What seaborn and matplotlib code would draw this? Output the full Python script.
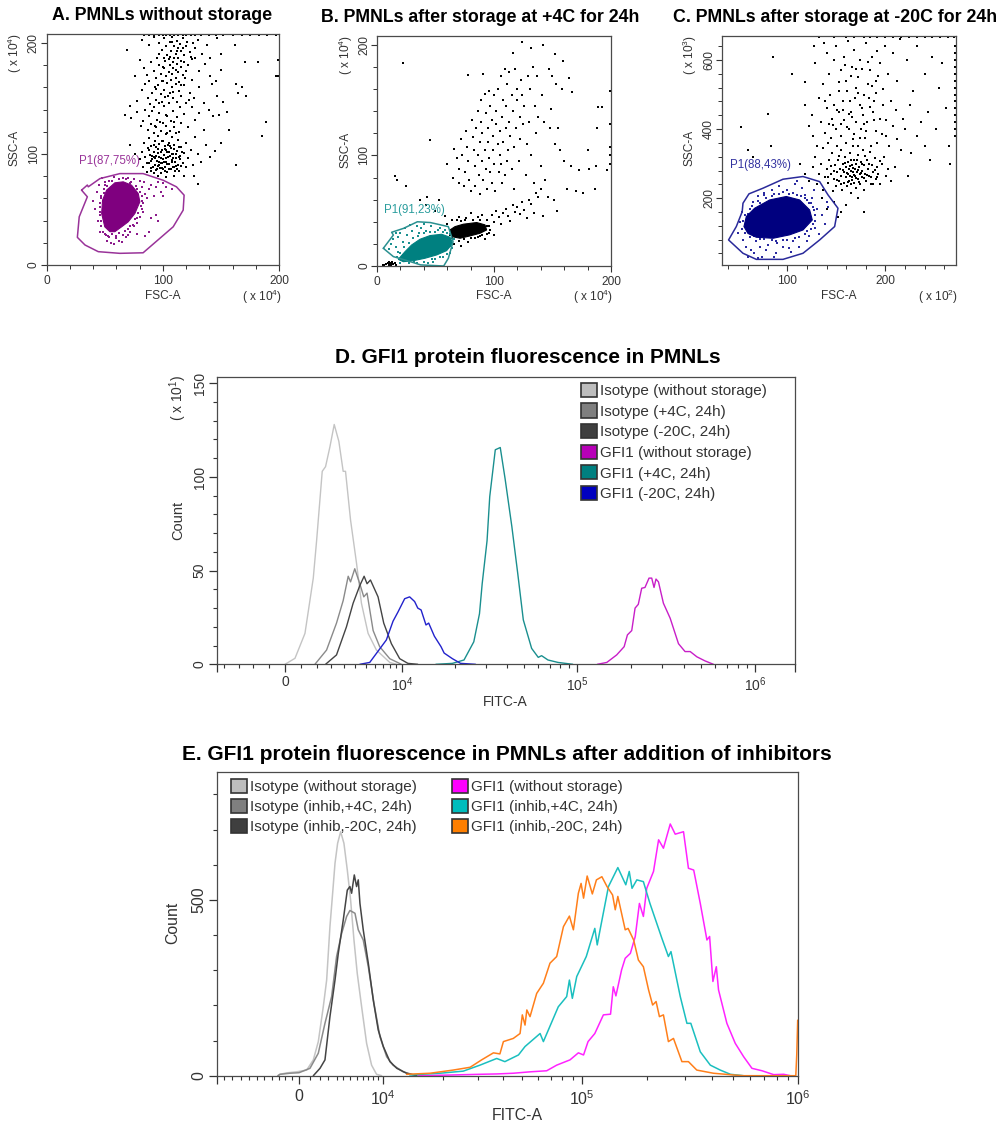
import numpy as np
import matplotlib
matplotlib.use('Agg')
import matplotlib.pyplot as plt
from matplotlib.patches import Patch
import seaborn as sns

W, H = 1003, 1123

# ---- panel A events (FSC-A, SSC-A, x 10^4)
a_black = [(84,207),(88,207),(92,207),(97,207),(100,207),(103,207),(106,207),(110,207),(113,207),(117,207),(120,207),(124,207),(128,207),(133,207),(140,207),(146,207),(152,207),(160,207),(168,207),(175,207),(183,207),(190,207),(197,207),(199,185),(199,170),
(82,203),(88,198),(92,205),(97,200),(99,194),(101,204),(103,197),(104,189),(106,201),(107,193),(108,205),(110,197),(111,190),(112,202),(113,186),(115,199),(116,193),(117,204),(118,189),(120,197),(121,201),(123,192),(124,187),(126,200),(128,195),(130,203),(134,190),(138,198),(141,186),(147,204),(150,190),(162,198),(69,194),(97,190),(101,186),(106,187),(109,183),(113,195),(116,184),
(80,185),(84,177),(86,171),(90,183),(92,175),(94,168),(95,186),(97,180),(98,172),(100,166),(101,177),(102,184),(103,170),(105,174),(106,180),(107,167),(108,172),(109,177),(110,186),(111,168),(112,181),(113,174),(114,165),(116,178),(117,171),(118,183),(120,175),(122,180),(125,167),(128,186),(131,175),(136,181),(141,170),(146,166),(150,176),(163,163),(171,183),(182,183),(197,170),(76,170),
(78,148),(82,158),(85,163),(87,150),(89,145),(91,155),(93,160),(94,149),(96,162),(98,154),(99,147),(101,158),(102,151),(104,164),(105,146),(106,155),(108,160),(109,150),(111,163),(112,147),(114,157),(116,152),(118,162),(120,146),(123,155),(127,150),(131,160),(135,146),(142,163),(147,152),(152,147),(165,155),(172,152),(168,160),
(67,135),(72,143),(73,132),(78,138),(81,125),(83,130),(85,140),(87,122),(88,134),(90,127),(92,142),(94,124),(95,131),(97,137),(98,121),(100,128),(101,143),(103,125),(104,134),(106,121),(107,130),(109,139),(110,124),(112,133),(114,120),(116,128),(118,136),(122,124),(125,142),(128,131),(131,137),(135,122),(140,140),(143,134),(148,135),(155,138),(157,122),(189,129),(185,116),
(80,95),(82,102),(83,88),(84,110),(85,97),(86,84),(87,105),(88,92),(88,114),(89,99),(90,87),(90,107),(91,95),(92,102),(92,83),(93,90),(93,112),(94,98),(94,106),(95,86),(95,94),(96,101),(96,116),(97,90),(97,109),(98,96),(98,83),(99,104),(99,92),(100,86),(100,112),(101,99),(101,93),(102,107),(102,88),(103,96),(103,118),(104,84),(104,102),(105,91),(105,110),(106,98),(107,86),(107,105),(108,93),(108,115),(109,100),(110,88),(110,108),(111,96),(112,103),(113,90),(113,113),(114,85),(115,98),(116,106),(117,92),(118,101),(120,88),(120,110),(122,96),(124,104),(126,90),(128,115),(130,100),(133,93),(137,108),(141,97),(145,103),(150,110),(163,90),(130,73),(127,80),(118,80),(110,80),(103,79),(96,80),(76,100),(72,108)]
a_black_dense = [(86.5,91.5),(88.5,103.5),(89.5,84.5),(90.5,98.5),(91.5,88.5),(92.5,108.5),(93.5,96.5),(94.5,85.5),(95.5,104.5),(96.5,92.5),(97.5,87.5),(98.5,101.5),(99.5,111.5),(100.5,95.5),(101.5,84.5),(102.5,103.5),(103.5,90.5),(104.5,97.5),(105.5,86.5),(106.5,107.5),(107.5,94.5),(108.5,88.5),(109.5,104.5),(110.5,92.5),(111.5,99.5),(112.5,86.5),(113.5,106.5),(114.5,95.5),(115.5,89.5),(116.5,101.5),(89.5,93.5),(92.5,97.5),(95.5,89.5),(98.5,91.5),(101.5,104.5),(104.5,108.5),(107.5,99.5),(110.5,84.5),(113.5,97.5),(96.5,97.5),(99.5,87.5),(102.5,92.5),(105.5,101.5),(108.5,96.5),(111.5,89.5),
(93.5,125.5),(96.5,145.5),(99.5,165.5),(102.5,135.5),(105.5,185.5),(108.5,155.5),(111.5,175.5),(114.5,142.5),(117.5,195.5),(90.5,138.5),(100.5,178.5),(104.5,152.5),(109.5,128.5),(112.5,192.5),(119.5,168.5),(94.5,158.5),(97.5,128.5),(107.5,200.5),(115.5,162.5),(122.5,148.5),(125.5,185.5),(88.5,165.5),(103.5,118.5),(111.5,118.5),(92.5,118.5)]
a_p1 = [(40,58),(42,50),(43,66),(44,40),(45,72),(46,30),(48,78),(50,75),(52,22),(53,26),(55,20),(58,19),(60,24),(62,22),(65,21),(68,25),(70,27),(72,30),(75,35),(78,38),(80,43),(82,50),(83,56),(85,64),(86,60),(88,68),(90,72),(92,62),(94,70),(96,75),(98,66),(100,62),(103,70),(88,30),(85,26),(90,42),(94,45),(82,70),(80,76),(75,77),(70,78),(84,75),(100,74),(108,68),(96,40),(78,28),
(46,45),(47,60),(49,68),(50,72),(54,76),(58,79),(66,78),(72,74),(78,68),(82,62),(83,48),(78,42),(74,36),(70,32),(66,27),(60,26),(54,25),(50,28),(47,35),(46,52),
(45.5,48),(46,56),(47,40),(48.5,30),(51,27),(56,27.5),(62,29),(67,31),(72,35),(76,41),(79,47),(81,53),(82,58),(80,66),(77,71),(73,75),(68,77),(62,77.5),(56,76),(52,71),(49,65),(47,62)]
a_core = [(54.4,30),(50,34.4),(47.3,46.4),(48.1,58.4),(51.6,67.4),(58.7,74),(65.9,74.9),(73,71.9),(78.8,64.4),(80.2,56.9),(75.9,46.4),(70.2,38.9),(64.5,34.4),(58.7,30)]
a_gate = [(30,67.4),(35,72),(35.8,70.4),(45.8,77.8),(63,82.3),(83,82.3),(100.3,76.3),(111.7,70.4),(118.3,62.9),(117.5,49.4),(108.9,34.4),(97.4,24),(83,11),(63,10.5),(44.4,12),(33,18),(26.4,24.9),(28,43.4),(35,61.4),(30,67.4)]

# ---- panel B events
b_black = [(94,42),(96,36),(98,46),(100,40),(102,50),(104,44),(106,38),(108,48),(110,52),(112,45),(114,41),(116,55),(118,49),(120,53),(122,47),(124,58),(126,51),(128,43),(130,60),(132,56),(134,48),(136,66),(138,62),(140,70),(142,45),(86,44),(80,48),(75,42),(90,46),(70,44),(84,25),(78,22),(88,27),(92,24),(66,20),(72,18),(96,30),(100,28),(58,45),(50,50),(42,55),(37,60),(43,62),(53,60),
(60,38),(64,42),(68,42),(72,41),(76,43),(82,42),(88,42),(94,36),(97,33),(94,29),(90,28),(86,26),(80,25),(74,24),(70,23),(64,25),(62,28),
(65,80),(60,92),(66,106),(68,98),(70,88),(70,75),(72,115),(73,100),(74,72),(75,85),(76,122),(77,108),(78,95),(79,78),(80,68),(81,132),(82,117),(83,105),(84,90),(84,72),(85,125),(86,140),(86,100),(87,82),(88,112),(88,65),(89,150),(89,130),(90,95),(90,120),(91,78),(92,156),(92,105),(93,138),(93,88),(94,70),(95,125),(95,112),(96,158),(96,98),(97,145),(97,85),(98,132),(98,75),(99,118),(99,105),(100,155),(100,92),(101,68),(102,140),(102,128),(103,110),(103,160),(104,85),(105,122),(105,100),(106,172),(106,92),(107,135),(107,75),(108,112),(108,150),(109,178),(109,82),(110,125),(110,145),(111,165),(111,95),(112,105),(113,130),(113,175),(114,118),(115,88),(115,155),(116,140),(117,70),(117,108),(118,178),(119,125),(120,150),(120,160),(121,95),(122,135),(122,115),(123,168),(124,155),(125,128),(126,145),(127,82),(128,110),(129,172),(130,130),(131,160),(132,100),(133,180),(134,75),(135,145),(136,120),(137,172),(138,135),(140,90),(141,155),(142,200),(143,130),(144,78),(146,62),(147,178),(148,125),(149,142),(150,172),(151,60),(152,110),(152,192),(153,165),(154,50),(155,125),(156,105),(158,160),(159,185),(160,95),(162,70),(164,170),(166,90),(167,157),(170,68),(173,87),(176,66),(180,105),(181,88),(186,70),(187,90),(188,125),(189,144),(192,144),(197,87),(199,158),(199,128),(199,108),(199,100),(199,92),(124,203),(116,193),(132,197),(22,184),(45,114),(91,174),(78,173),(15,81),(17,78),(25,72),
(8,2),(9,3),(10,1),(10,4),(11,2),(12,3),(12,1),(13,4),(14,2),(15,3),(16,1),(6,1),(5,0.5)]
b_black_core = [(62.4,32.6),(66.7,35.6),(73.8,37.8),(85.2,39.3),(92.3,37.2),(93.7,32.6),(88,29.6),(79.5,27.2),(71,25.1),(63.8,26.6)]
b_p1 = [(10,15),(12,20),(14,24),(16,17),(18,26),(18,13),(20,30),(22,10),(22,22),(24,34),(26,28),(28,37),(28,8),(30,32),(32,4),(34,36),(36,30),(38,34),(40,38),(42,32),(44,3),(46,36),(48,4),(50,6),(52,33),(54,34),(56,8),(58,33),(60,30),(62,12),(62,18),(16,30),(26,12),(24,6),(32,18),
(17,8),(20,12),(23,17),(27,21),(31,25),(35,27),(40,30),(45,31),(50,31),(56,31),(62,29),(66,24),(64,16),(60,11),(54,8),(47,6),(40,4),(34,3),(27,2.5),(20,3)]
b_core = [(18.2,6),(24,13),(29.6,19),(36.8,24.2),(45.3,27.5),(55.2,28.7),(62.4,26),(64.7,20.5),(59.5,13.9),(51,10),(41,7),(31,4.8),(22.5,3.9)]
b_gate = [(5.4,16),(14,28),(12.5,30.5),(22.6,34),(34.5,40),(45.6,39.3),(61,35.6),(65,22),(61,7),(57,0),(37.3,1),(24,5.4),(14,8.5),(5.4,16)]

# ---- panel C events (FSC-A x 10^2, SSC-A x 10^3)
c_black = [(132,668),(148,668),(160,668),(168,668),(178,668),(184,668),(192,668),(200,668),(208,668),(216,668),(224,668),(232,668),(240,668),(248,668),(256,668),(264,668),(270,668),
(271,640),(271,620),(271,600),(271,580),(271,560),(271,540),(271,520),(271,500),(271,480),(271,460),(271,440),(271,420),(271,400),(271,380),
(127,640),(128,590),(137,650),(140,620),(143,560),(148,600),(150,640),(153,510),(155,570),(158,610),(160,540),(162,655),(164,480),(166,580),(168,630),(170,520),(172,550),(174,600),(176,460),(178,500),(180,650),(182,530),(184,570),(186,610),(188,480),(190,540),(192,625),(195,590),(198,515),(200,640),(203,560),(206,480),(208,620),(212,540),(215,660),(218,430),(222,600),(225,470),(228,510),(232,640),(236,420),(240,560),(244,450),(248,610),(252,400),(255,520),(258,590),(262,460),(265,350),(266,300),
(118,470),(122,410),(125,440),(126,380),(130,350),(132,490),(134,420),(136,530),(138,390),(140,460),(142,360),(144,500),(146,430),(148,470),(150,400),(151,350),(153,450),(155,380),(157,480),(158,425),(160,360),(161,510),(163,400),(165,450),(167,370),(169,490),(170,420),(172,350),(174,470),(175,400),(177,440),(179,375),(181,420),(183,490),(185,350),(187,450),(190,395),(192,360),(195,430),(198,470),(201,380),(204,350),(208,410),(212,370),(216,340),(220,400),(226,330),(232,380),(240,350),(246,310),
(113,300),(118,270),(122,250),(126,290),(128,320),(130,240),(132,270),(134,300),(136,225),(138,260),(140,285),(142,245),(143,310),(145,270),(146,330),(147,220),(148,255),(149,295),(150,235),(151,275),(152,310),(153,250),(154,285),(155,265),(155,340),(156,225),(157,300),(158,245),(158,275),(159,320),(160,260),(160,290),(161,235),(162,270),(162,305),(163,250),(163,285),(164,330),(164,265),(165,280),(165,240),(166,295),(166,260),(167,275),(167,350),(168,310),(168,245),(169,285),(169,265),(170,230),(170,300),(171,275),(172,255),(172,325),(173,290),(174,270),(174,240),(175,305),(176,280),(176,260),(177,340),(178,225),(178,295),(179,270),(180,250),(181,310),(182,285),(183,265),(184,335),(185,240),(186,295),(187,275),(189,315),(190,255),(191,290),(193,270),(195,240),(197,300),(199,320),(201,265),(203,285),(206,250),(210,290),(223,265),
(135,200),(140,170),(148,190),(155,160),(160,180),(165,215),(172,200),(178,160),(152,145),
(85,610),(105,560),(118,535),(80,445),(53,405),(60,340),(83,350),(65,320)]
c_black_dense = [(141.5,262),(144.5,292),(147.5,278),(150.5,252),(152.5,322),(154.5,242),(156.5,282),(158.5,302),(160.5,272),(161.5,248),(163.5,292),(164.5,312),(166.5,252),(167.5,288),(168.5,268),(170.5,258),(171.5,312),(172.5,282),(173.5,248),(175.5,272),(176.5,298),(178.5,258),(179.5,322),(181.5,268),(183.5,300),(185.5,262),(187.5,242),(189.5,282),(191.5,262),(194.5,308),(146.5,412),(152.5,535),(156.5,455),(160.5,405),(164.5,555),(168.5,385),(172.5,505),(176.5,575),(180.5,395),(184.5,465),(188.5,425),(192.5,555),(196.5,385),(150.5,455),(158.5,585),(166.5,435),(174.5,375),(182.5,595),(190.5,505),(142.5,415),(138.5,480),(136.5,345),(144.5,375),(154.5,415),(162.5,445),(170.5,575),(178.5,415),(186.5,525),(200.5,425),(210.5,455)]
c_p1 = [(50,100),(52,130),(55,80),(57,150),(58,60),(60,110),(62,170),(63,50),(65,190),(66,40),(68,75),(70,205),(72,60),(74,30),(76,215),(78,50),(80,65),(84,225),(88,40),(90,70),(92,235),(96,60),(100,225),(104,45),(106,75),(108,240),(112,60),(115,230),(118,210),(120,75),(122,90),(125,200),(128,115),(130,170),(132,95),(135,150),(138,125),(140,190),(142,175),(127,225),(122,185),(110,250),(102,55),(86,30),(70,28),(60,30),
(58,125),(62,145),(66,165),(72,185),(78,200),(86,212),(96,218),(106,215),(114,205),(120,195),(126,175),(128,150),(126,125),(120,105),(112,88),(100,78),(88,75),(76,82),(66,92),(60,108),
(54,112),(55,135),(60,155),(64,178),(70,192),(76,208),(84,206),(92,213),(102,212),(110,208),(118,200),(124,186),(127,165),(128,135),(124,112),(118,96),(108,86),(96,80),(84,78),(72,82),(62,88),(57,100)]
c_core = [(55.8,118),(58.2,147),(66.7,171),(82,195),(99,205),(112.6,195),(122.8,166),(125.5,137),(116,108),(102.4,94),(85.4,84),(68.4,87),(59.9,98)]
c_gate = [(54,161),(54.8,185.5),(60.9,212.6),(75.2,229),(95.6,255),(116,262.8),(133,248),(141.5,209.7),(151.7,171),(148.3,118),(133,79.2),(116,40.6),(95.6,23),(68.4,23),(54.8,40.6),(40.1,79.2),(48,118),(54,161)]

# ---- panel D histograms
d_iso_x = [0,852,1705,2415,2700,3180,3465,3835,4205,4600,4970,5170,5600,6110,6530,7100,7810,8950,9520]
d_iso_y = [0,3.2,16.5,46,66,103,105.5,116,128,119,103,103,77,54,32.6,16.5,7.6,1,0]
d_iso4_x = [2556,3550,4400,4970,5400,5600,5960,6390,6730,7010,7530,8090,8950,9940]
d_iso4_y = [0,7.6,22,34,47,44,51,43,36,38,18,9.4,3,0]
d_iso20_x = [3465,4400,5250,5820,6390,6760,7010,7300,7950,8435,9090,9800,10800,12300]
d_iso20_y = [0,5,20,32.6,42,47,43,45,36,22,11,3,0.5,0]
d_gfi_x = [1.30e5,1.47e5,1.67e5,1.84e5,1.92e5,2.03e5,2.12e5,2.21e5,2.31e5,2.41e5,2.54e5,2.63e5,2.71e5,2.78e5,2.87e5,3.06e5,3.34e5,3.72e5,4.05e5,4.33e5,4.72e5,5.25e5,5.85e5]
d_gfi_y = [0,1,5,9.4,15.7,18,30,32,40.6,41,46,46,41,45.5,44,32.6,24.6,11,6.8,6.8,4,1.8,0]
d_gfi4_x = [1.56e4,1.94e4,2.26e4,2.57e4,2.77e4,2.87e4,3.06e4,3.17e4,3.41e4,3.64e4,3.88e4,4.24e4,4.58e4,4.93e4,5.5e4,6.0e4,6.27e4,6.82e4,7.78e4,9.45e4]
d_gfi4_y = [0,0.5,2.3,12,27,43,66,89.5,114.5,115.7,99,73.5,48.6,23.7,8.5,3.7,4.6,2.3,1,0]
d_gfi20_x = [6390,7240,7950,8660,9230,9660,10350,11050,11800,12300,12850,13700,14200,15300,16700,17400,19400,21600,26300]
d_gfi20_y = [0,1,7,13,23,28,35,36,33.5,30,29,21,22,15,9.4,6,3,0.5,0]

# ---- panel E histograms
e_iso_x = [-2500,-2250,-1460,-276,908,1700,2290,2880,3280,3670,3990,4270,4580,4940,5330,5730,6120,6520,6910,7430,8020,8610,9200,9800]
e_iso_y = [0,4,8,11,16,45,97,196,272,424,519,604,661,694,661,585,500,386,291,196,92,30,4,0]
e_iso4_x = [-2500,-2250,-1070,0,1300,2290,3080,3870,4460,5060,5650,6040,6640,7030,7620,8220,8890,9600,10400,11200,12600,14100,16000]
e_iso4_y = [0,4,7,8.5,21,64,149,225,339,405,453,470,462,415,386,310,206,111,54,30,11,3,0]
e_iso20_x = [1700,2490,3080,3670,4270,4660,5250,5730,6040,6240,6560,6830,7030,7230,7620,8220,8810,9400,10000,10800,11700,13100,14700]
e_iso20_y = [0,21,45,168,272,348,443,528,538,519,571,538,557,490,415,320,215,130,83,40,21,7,0]
e_gfi_x = [1.5e4,2.2e4,3.07e4,3.73e4,4.52e4,5.49e4,6.66e4,7.48e4,8.73e4,9.62e4,1.02e5,1.07e5,1.15e5,1.26e5,1.36e5,1.40e5,1.44e5,1.53e5,1.59e5,1.68e5,1.77e5,1.85e5,1.93e5,2.0e5,2.15e5,2.27e5,2.39e5,2.57e5,2.71e5,2.96e5,3.12e5,3.3e5,3.54e5,3.8e5,3.91e5,4.05e5,4.2e5,4.3e5,4.7e5,5.14e5,5.62e5,6.14e5,6.84e5,7.74e5,8.61e5,9.25e5]
e_gfi_y = [0,2,4,5,7,11,14,30,45,65,59,97,120,173,175,253,227,301,334,348,396,490,453,533,581,671,647,716,687,694,590,585,490,386,396,268,310,244,149,92,54,21,14,3,4,0]
e_gfi4_x = [1.36e4,1.93e4,2.53e4,3.07e4,3.73e4,4.1e4,4.8e4,5.18e4,6.17e4,6.41e4,7.62e4,8.4e4,8.67e4,8.97e4,9.44e4,1.05e5,1.15e5,1.18e5,1.22e5,1.33e5,1.47e5,1.6e5,1.66e5,1.71e5,1.8e5,1.93e5,2.07e5,2.35e5,2.52e5,2.59e5,2.86e5,3.07e5,3.2e5,3.54e5,3.94e5,4.38e5,4.88e5,5.62e5]
e_gfi4_y = [2,7,13,30,49,40,59,83,120,97,196,225,272,220,282,339,419,372,419,538,592,543,581,533,557,552,490,391,339,353,225,149,149,68,30,16,4,0]
e_gfi20_x = [1.31e4,1.72e4,2.25e4,2.74e4,3.13e4,3.59e4,3.87e4,4.03e4,4.52e4,4.89e4,5.02e4,5.18e4,5.29e4,5.49e4,5.93e4,6.41e4,6.92e4,7.48e4,8.09e4,8.67e4,9.08e4,9.62e4,9.93e4,1.02e5,1.06e5,1.12e5,1.17e5,1.24e5,1.31e5,1.39e5,1.43e5,1.47e5,1.59e5,1.64e5,1.74e5,1.83e5,1.93e5,2.04e5,2.13e5,2.21e5,2.29e5,2.39e5,2.52e5,2.66e5,2.91e5,3.12e5,3.41e5,4.07e5,5.05e5,5.6e5,9.8e5,9.9e5,1e6]
e_gfi20_y = [4,7,16,24,45,65,62,97,106,120,173,144,187,168,234,263,320,339,424,454,415,519,547,505,568,517,557,566,538,514,472,510,415,419,386,329,310,244,201,211,168,173,97,106,40,40,16,7,2,0,0,60,158]

d_colors = ['#bdbdbd', '#7f7f7f', '#3f3f3f', '#b800b8', '#008080', '#0000bf']
d_labels = ['Isotype (without storage)', 'Isotype (+4C, 24h)', 'Isotype (-20C, 24h)',
            'GFI1 (without storage)', 'GFI1 (+4C, 24h)', 'GFI1 (-20C, 24h)']
e_colors = ['#bdbdbd', '#7f7f7f', '#3f3f3f', '#ff00ff', '#00bdbd', '#ff7f00']
e_labels = ['Isotype (without storage)', 'Isotype (inhib,+4C, 24h)', 'Isotype (inhib,-20C, 24h)',
            'GFI1 (without storage)', 'GFI1 (inhib,+4C, 24h)', 'GFI1 (inhib,-20C, 24h)']

D_DECADES = [-117, 0, 117, 292, 469.7, 646.7]
E_DECADES = [-84.3, 0, 84.3, 282.7, 498.7, 714.7]
U_POINTS = [-1, 0, 1, 2, 3, 4]

sns.set_style('ticks')
plt.rcParams['font.family'] = ['Liberation Sans', 'DejaVu Sans']
plt.rcParams['mathtext.default'] = 'regular'
plt.rcParams['axes.edgecolor'] = '#4a4a4a'
plt.rcParams['text.color'] = '#333333'
plt.rcParams['xtick.color'] = '#333333'
plt.rcParams['ytick.color'] = '#333333'
plt.rcParams['xtick.labelcolor'] = '#333333'
plt.rcParams['ytick.labelcolor'] = '#333333'


def biex_scale(decades):
    # linear up to 10^4, log above, like the cytometer software axis
    def forward(v):
        v = np.asarray(v, dtype=float)
        u = np.where(v <= 1e4, v / 1e4, 1 + np.log10(np.maximum(v, 1e4) / 1e4))
        return np.interp(u, U_POINTS, decades)

    def inverse(p):
        u = np.interp(np.asarray(p, dtype=float), decades, U_POINTS)
        return np.where(u <= 1, u * 1e4, 1e4 * 10 ** (np.maximum(u, 1) - 1))

    return forward, inverse


def add_axes_px(fig, left, top, right, bottom):
    return fig.add_axes([left / W, 1 - bottom / H, (right - left) / W, (bottom - top) / H])


def text_px(fig, x, y, s, **kwargs):
    kwargs.setdefault('ha', 'center')
    kwargs.setdefault('va', 'center')
    fig.text(x / W, 1 - y / H, s, **kwargs)


def draw_events(ax, events, color):
    pts = np.array(events)
    sns.scatterplot(x=pts[:, 0], y=pts[:, 1], ax=ax, color=color, marker='s', s=0.9,
                    linewidth=0, clip_on=True, legend=False)


def fill_core(ax, core, color):
    pts = np.array(core)
    ax.fill(pts[:, 0], pts[:, 1], color=color, lw=0.8)


def draw_gate(ax, gate, color):
    pts = np.array(gate)
    sns.lineplot(x=pts[:, 0], y=pts[:, 1], ax=ax, color=color, lw=1.1, sort=False,
                 estimator=None, legend=False)


def style_dot_axes(ax, xlim, ylim, xmajor, xminor, ymajor, yminor, fs=8.6):
    ax.set_xlim(xlim)
    ax.set_ylim(ylim)
    ax.set_xticks(xmajor)
    ax.set_xticks(xminor, minor=True)
    ax.set_yticks(ymajor)
    ax.set_yticks(yminor, minor=True)
    ax.set_xticklabels([str(t) for t in xmajor], fontsize=fs)
    ax.set_yticklabels([str(t) for t in ymajor], fontsize=fs, rotation=90, va='center')
    ax.tick_params(which='major', length=4.5, width=0.8, pad=2.5)
    ax.tick_params(axis='y', which='major', pad=0.5)
    ax.tick_params(which='minor', length=2.8, width=0.7)
    ax.set_xlabel('')
    ax.set_ylabel('')
    for s in ax.spines.values():
        s.set_visible(True)
        s.set_linewidth(0.9)


def style_hist_axes(ax, xlim, ylim, xmajor, xlabels, xminor, ymajor, yminor, fs, xpad=4):
    ax.set_xlim(xlim)
    ax.set_ylim(ylim)
    ax.set_xticks(xmajor)
    ax.set_xticklabels(xlabels, fontsize=fs)
    ax.set_xticks(xminor, minor=True)
    ax.set_yticks(ymajor)
    ax.set_yticklabels([str(t) for t in ymajor], fontsize=fs, rotation=90, va='center')
    ax.set_yticks(yminor, minor=True)
    ax.tick_params(which='major', length=5.5, width=0.9, pad=xpad)
    ax.tick_params(axis='y', which='major', pad=2)
    ax.tick_params(which='minor', length=3, width=0.8)
    ax.set_xlabel('')
    ax.set_ylabel('')
    for s in ax.spines.values():
        s.set_visible(True)
        s.set_linewidth(0.9)


def log_minor(first, last):
    return [m * 10 ** d for d in range(first, last) for m in range(2, 10)]


def main():
    fig = plt.figure(figsize=(W / 100, H / 100), dpi=100)

    # A
    ax_a = add_axes_px(fig, 46.7, 34, 279, 265)
    draw_events(ax_a, a_black, 'black')
    draw_events(ax_a, a_black_dense, 'black')
    draw_events(ax_a, a_p1, '#8b1a8b')
    fill_core(ax_a, a_core, '#7f007f')
    draw_gate(ax_a, a_gate, '#993399')
    style_dot_axes(ax_a, (0, 200), (0, 208), [0, 100, 200], range(20, 200, 20),
                   [0, 100, 200], range(20, 200, 20))
    text_px(fig, 162, 16, 'A. PMNLs without storage', fontsize=12.75, fontweight='bold', color='black')
    text_px(fig, 163, 296, 'FSC-A', fontsize=8.6)
    text_px(fig, 262, 297, r'( x 10$^{4}$)', fontsize=8.6)
    text_px(fig, 15, 148, 'SSC-A', fontsize=8.6, rotation=90)
    text_px(fig, 15, 53, r'( x 10$^{4}$)', fontsize=8.6, rotation=90)
    text_px(fig, 109, 161, 'P1(87,75%)', fontsize=8.3, color='#993399')

    # B
    ax_b = add_axes_px(fig, 377, 36, 611, 266)
    draw_events(ax_b, b_black, 'black')
    fill_core(ax_b, b_black_core, 'black')
    draw_events(ax_b, b_p1, '#1a8f8f')
    fill_core(ax_b, b_core, '#008080')
    draw_gate(ax_b, b_gate, '#2a9090')
    style_dot_axes(ax_b, (0, 200), (0, 208), [0, 100, 200], range(20, 200, 20),
                   [0, 100, 200], range(20, 200, 20))
    text_px(fig, 480, 17, 'B. PMNLs after storage at +4C for 24h', fontsize=12.75, fontweight='bold', color='black')
    text_px(fig, 494, 296, 'FSC-A', fontsize=8.6)
    text_px(fig, 593, 297, r'( x 10$^{4}$)', fontsize=8.6)
    text_px(fig, 346, 150, 'SSC-A', fontsize=8.6, rotation=90)
    text_px(fig, 346, 55, r'( x 10$^{4}$)', fontsize=8.6, rotation=90)
    text_px(fig, 414, 210, 'P1(91,23%)', fontsize=8.3, color='#2a9d9d')

    # C
    ax_c = add_axes_px(fig, 722, 36, 956.3, 265.3)
    draw_events(ax_c, c_black, 'black')
    draw_events(ax_c, c_black_dense, 'black')
    draw_events(ax_c, c_p1, '#2a2aa0')
    fill_core(ax_c, c_core, '#00007f')
    draw_gate(ax_c, c_gate, '#2a2a9a')
    style_dot_axes(ax_c, (33.4, 272.4), (5.8, 669.6), [100, 200], range(40, 272, 20),
                   [200, 400, 600], range(40, 660, 40))
    text_px(fig, 835, 17, 'C. PMNLs after storage at -20C for 24h', fontsize=12.75, fontweight='bold', color='black')
    text_px(fig, 839, 296, 'FSC-A', fontsize=8.6)
    text_px(fig, 938, 297, r'( x 10$^{2}$)', fontsize=8.6)
    text_px(fig, 690, 148, 'SSC-A', fontsize=8.6, rotation=90)
    text_px(fig, 690, 55, r'( x 10$^{3}$)', fontsize=8.6, rotation=90)
    text_px(fig, 760, 165, 'P1(88,43%)', fontsize=8.3, color='#3333a0')

    # D
    ax_d = add_axes_px(fig, 217, 376.7, 794.7, 664.3)
    ax_d.set_xscale('function', functions=biex_scale(D_DECADES))
    d_curves = [(d_iso_x, d_iso_y), (d_iso4_x, d_iso4_y), (d_iso20_x, d_iso20_y),
                (d_gfi_x, d_gfi_y), (d_gfi4_x, d_gfi4_y), (d_gfi20_x, d_gfi20_y)]
    d_line_colors = ['#c4c4c4', '#8a8a8a', '#444444', '#c81ec8', '#1a8f8f', '#2222cc']
    for (cx, cy), col in zip(d_curves, d_line_colors):
        sns.lineplot(x=cx, y=cy, ax=ax_d, color=col, lw=1.0, estimator=None, sort=False, legend=False)
    d_left, d_right = -5812, 1.68e6
    style_hist_axes(ax_d, (d_left, d_right), (0, 153.5),
                    [d_left, 0, 1e4, 1e5, 1e6, d_right],
                    ['', '0', r'10$^{4}$', r'10$^{5}$', r'10$^{6}$', ''],
                    [-5200, -3950, -2700, -1360, 1400, 2700, 3900, 5000, 6000, 6900, 7700, 8400, 9000, 9500]
                    + log_minor(4, 6),
                    [0, 50, 100, 150], [v for v in range(10, 150, 10) if v % 50], fs=10, xpad=2.5)
    ax_d.legend(handles=[Patch(facecolor=c, edgecolor='#333333', lw=1.2) for c in d_colors],
                labels=d_labels, loc='upper left', bbox_to_anchor=((580.7 - 217) / 577.7, 1 - (382.7 - 376.7) / 287.6),
                frameon=False, fontsize=11, handlelength=1.05, handleheight=1.05,
                handletextpad=0.2, labelspacing=0.35, borderpad=0, borderaxespad=0, labelcolor='#333333')
    text_px(fig, 528, 358, 'D. GFI1 protein fluorescence in PMNLs', fontsize=15, fontweight='bold', color='black')
    text_px(fig, 505, 702, 'FITC-A', fontsize=10)
    text_px(fig, 178, 520, 'Count', fontsize=10.5, rotation=90)
    text_px(fig, 178, 398, r'( x 10$^{1}$)', fontsize=10, rotation=90)

    # E
    ax_e = add_axes_px(fig, 216.7, 772.3, 797.7, 1075.7)
    ax_e.set_xscale('function', functions=biex_scale(E_DECADES))
    e_curves = [(e_iso_x, e_iso_y), (e_iso4_x, e_iso4_y), (e_iso20_x, e_iso20_y),
                (e_gfi_x, e_gfi_y), (e_gfi4_x, e_gfi4_y), (e_gfi20_x, e_gfi20_y)]
    e_line_colors = ['#c4c4c4', '#8a8a8a', '#444444', '#ff22ff', '#1abfbf', '#ff7f1a']
    for (cx, cy), col in zip(e_curves, e_line_colors):
        sns.lineplot(x=cx, y=cy, ax=ax_e, color=col, lw=1.1, estimator=None, sort=False, legend=False)
    e_left = -9763
    style_hist_axes(ax_e, (e_left, 1e6), (0, 863),
                    [e_left, 0, 1e4, 1e5, 1e6],
                    ['', '0', r'10$^{4}$', r'10$^{5}$', r'10$^{6}$'],
                    [-8900, -7900, -6900, -5950, -5000, -4150, -3250, -2400, -1700, -870,
                     1300, 2490, 3480, 4470, 5260, 6050, 6840, 7630, 8220, 8810, 9400]
                    + log_minor(4, 6),
                    [0, 500], [100, 200, 300, 400, 600, 700, 800], fs=11.5)
    ax_e.legend(handles=[Patch(facecolor=c, edgecolor='#333333', lw=1.2) for c in e_colors],
                labels=e_labels, ncol=2, loc='upper left',
                bbox_to_anchor=((231 - 216.7) / 581, 1 - (779 - 772.3) / 303.4),
                frameon=False, fontsize=11, handlelength=1.05, handleheight=1.05,
                handletextpad=0.2, labelspacing=0.3, columnspacing=2.3, borderpad=0,
                borderaxespad=0, labelcolor='#333333')
    text_px(fig, 507, 755, 'E. GFI1 protein fluorescence in PMNLs after addition of inhibitors',
            fontsize=15, fontweight='bold', color='black')
    text_px(fig, 517, 1116, 'FITC-A', fontsize=11.4)
    text_px(fig, 173, 923, 'Count', fontsize=11.4, rotation=90)

    fig.savefig('out.png', dpi=100)
    plt.close(fig)


if __name__ == '__main__':
    main()
